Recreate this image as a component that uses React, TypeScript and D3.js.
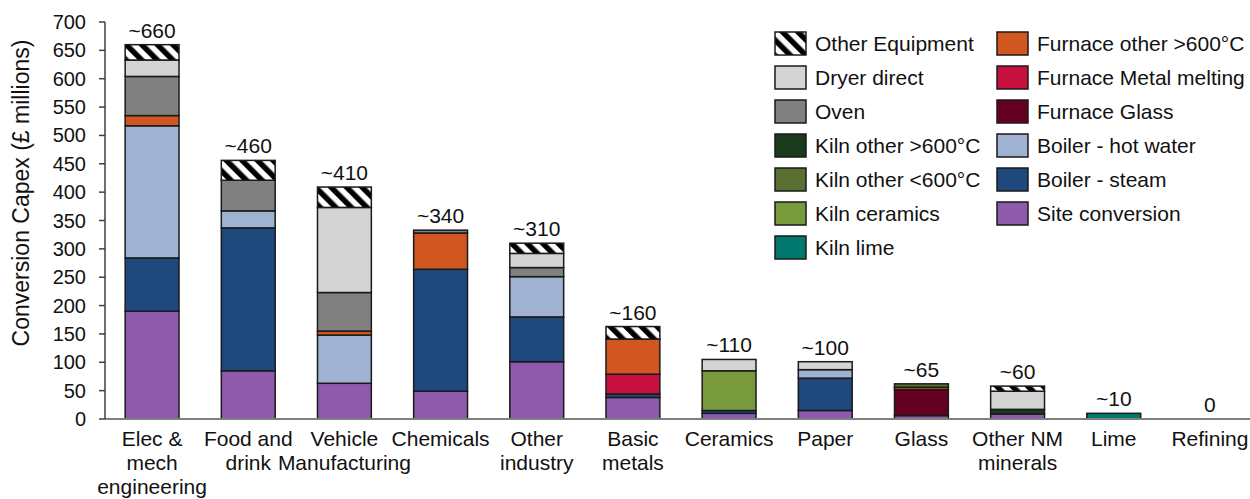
import React from "react";
import * as d3 from "d3";

const categories = [
  "Elec & mech engineering",
  "Food and drink",
  "Vehicle Manufacturing",
  "Chemicals",
  "Other industry",
  "Basic metals",
  "Ceramics",
  "Paper",
  "Glass",
  "Other NM minerals",
  "Lime",
  "Refining",
];
const categoryLines = [
  ["Elec &", "mech", "engineering"],
  ["Food and", "drink"],
  ["Vehicle", "Manufacturing"],
  ["Chemicals"],
  ["Other", "industry"],
  ["Basic", "metals"],
  ["Ceramics"],
  ["Paper"],
  ["Glass"],
  ["Other NM", "minerals"],
  ["Lime"],
  ["Refining"],
];
const totalLabels = ["~660", "~460", "~410", "~340", "~310", "~160", "~110", "~100", "~65", "~60", "~10", "0"];
const yTicks = [0, 50, 100, 150, 200, 250, 300, 350, 400, 450, 500, 550, 600, 650, 700];

// stack order bottom -> top
const siteConversion = [190, 85, 63, 49, 101, 38, 10, 15, 6, 9, 0, 0];
const boilerSteam = [94, 252, 0, 215, 79, 6, 5, 57, 0, 0, 0, 0];
const boilerHotWater = [233, 30, 85, 0, 71, 0, 0, 15, 0, 0, 0, 0];
const furnaceGlass = [0, 0, 0, 0, 0, 0, 0, 0, 46, 0, 0, 0];
const furnaceMetalMelting = [0, 0, 0, 0, 0, 35, 0, 0, 0, 0, 0, 0];
const furnaceOther = [18, 0, 7, 64, 0, 62, 0, 0, 4, 0, 0, 0];
const kilnLime = [0, 0, 0, 0, 0, 0, 0, 0, 0, 0, 10, 0];
const kilnCeramics = [0, 0, 0, 0, 0, 0, 70, 0, 0, 0, 0, 0];
const kilnOtherBelow600 = [0, 0, 0, 0, 0, 0, 0, 0, 6, 0, 0, 0];
const kilnOtherAbove600 = [0, 0, 0, 0, 0, 0, 0, 0, 0, 8, 0, 0];
const oven = [69, 54, 68, 5, 16, 0, 0, 0, 0, 0, 0, 0];
const dryerDirect = [29, 0, 150, 0, 25, 0, 20, 14, 0, 32, 0, 0];
const otherEquipment = [27, 35, 36, 0, 18, 22, 0, 0, 0, 9, 0, 0];

const seriesDefs = [
  { key: "Site conversion", values: siteConversion, color: "#8e5aab" },
  { key: "Boiler - steam", values: boilerSteam, color: "#1f497d" },
  { key: "Boiler - hot water", values: boilerHotWater, color: "#9fb2d1" },
  { key: "Furnace Glass", values: furnaceGlass, color: "#640021" },
  { key: "Furnace Metal melting", values: furnaceMetalMelting, color: "#c8103f" },
  { key: "Furnace other >600°C", values: furnaceOther, color: "#d2561f" },
  { key: "Kiln lime", values: kilnLime, color: "#00786d" },
  { key: "Kiln ceramics", values: kilnCeramics, color: "#789a3c" },
  { key: "Kiln other <600°C", values: kilnOtherBelow600, color: "#5a7032" },
  { key: "Kiln other >600°C", values: kilnOtherAbove600, color: "#1b3a1c" },
  { key: "Oven", values: oven, color: "#808080" },
  { key: "Dryer direct", values: dryerDirect, color: "#d4d4d4" },
  { key: "Other Equipment", values: otherEquipment, color: "url(#hatch)" },
];

const legendCol1 = ["Other Equipment", "Dryer direct", "Oven", "Kiln other >600°C", "Kiln other <600°C", "Kiln ceramics", "Kiln lime"];
const legendCol2 = ["Furnace other >600°C", "Furnace Metal melting", "Furnace Glass", "Boiler - hot water", "Boiler - steam", "Site conversion"];

const W = 1250;
const H = 499;
const FONT = "'Liberation Sans', Arial, sans-serif";

export default function App() {
  const x = d3.scaleBand<string>().domain(categories).range([104, 1258]).paddingInner(0.44).paddingOuter(0.22);
  const y = d3.scaleLinear().domain([0, 700]).range([419, 22]);

  const rows = categories.map((c, i) => {
    const r: any = { category: c };
    seriesDefs.forEach((s) => (r[s.key] = s.values[i]));
    return r;
  });
  const stacked = d3.stack<any>().keys(seriesDefs.map((s) => s.key))(rows);
  const colorOf: Record<string, string> = {};
  seriesDefs.forEach((s) => (colorOf[s.key] = s.color));
  const totals = categories.map((_, i) => d3.sum(seriesDefs, (s) => s.values[i]));

  return (
    <svg width={W} height={H} style={{ position: "absolute", left: 0, top: 0, background: "#fff" }} fontFamily={FONT}>
      <defs>
        <pattern id="hatch" patternUnits="userSpaceOnUse" width={11} height={11} patternTransform="rotate(-45)">
          <rect width={11} height={11} fill="#fff" />
          <rect width={5.5} height={11} fill="#000" />
        </pattern>
      </defs>

      {/* bars */}
      {stacked.map((layer) => (
        <g key={layer.key}>
          {layer.map((d, i) => {
            if (d[1] - d[0] <= 0) return null;
            return (
              <rect
                key={i}
                x={x(categories[i])}
                width={x.bandwidth()}
                y={y(d[1])}
                height={y(d[0]) - y(d[1])}
                fill={colorOf[layer.key]}
                stroke="#1a1a1a"
                strokeWidth={1.5}
              />
            );
          })}
        </g>
      ))}

      {/* total labels */}
      {categories.map((c, i) => (
        <text
          key={c}
          x={(x(c) as number) + x.bandwidth() / 2}
          y={y(totals[i]) - 7}
          textAnchor="middle"
          fontSize={21}
          fill="#111"
        >
          {totalLabels[i]}
        </text>
      ))}

      {/* x axis */}
      <line x1={105} x2={W} y1={y(0)} y2={y(0)} stroke="#7f7f7f" strokeWidth={2} />
      {categories.map((c, i) => (
        <text key={c} textAnchor="middle" fontSize={21} fill="#111">
          {categoryLines[i].map((ln, k) => (
            <tspan key={k} x={(x(c) as number) + x.bandwidth() / 2} y={446 + k * 24}>
              {ln}
            </tspan>
          ))}
        </text>
      ))}

      {/* y axis */}
      <line x1={105} x2={105} y1={y(700)} y2={y(0)} stroke="#404040" strokeWidth={1.5} />
      {yTicks.map((t) => (
        <g key={t}>
          <line x1={99} x2={105} y1={y(t)} y2={y(t)} stroke="#404040" strokeWidth={1.5} />
          <text x={86} y={y(t) + 7} textAnchor="end" fontSize={20} fill="#111">
            {t}
          </text>
        </g>
      ))}
      <text transform={`translate(29, 193) rotate(-90)`} textAnchor="middle" fontSize={23} fill="#111">
        Conversion Capex (£ millions)
      </text>

      {/* legend */}
      {[legendCol1, legendCol2].map((col, ci) =>
        col.map((name, ri) => {
          const sx = ci === 0 ? 775 : 997;
          const sy = 32 + ri * 34;
          return (
            <g key={name}>
              <rect x={sx} y={sy} width={31} height={23} fill={colorOf[name]} stroke="#1a1a1a" strokeWidth={1.5} />
              <text x={sx + 40} y={sy + 19} fontSize={21} fill="#111">
                {name}
              </text>
            </g>
          );
        })
      )}
    </svg>
  );
}
